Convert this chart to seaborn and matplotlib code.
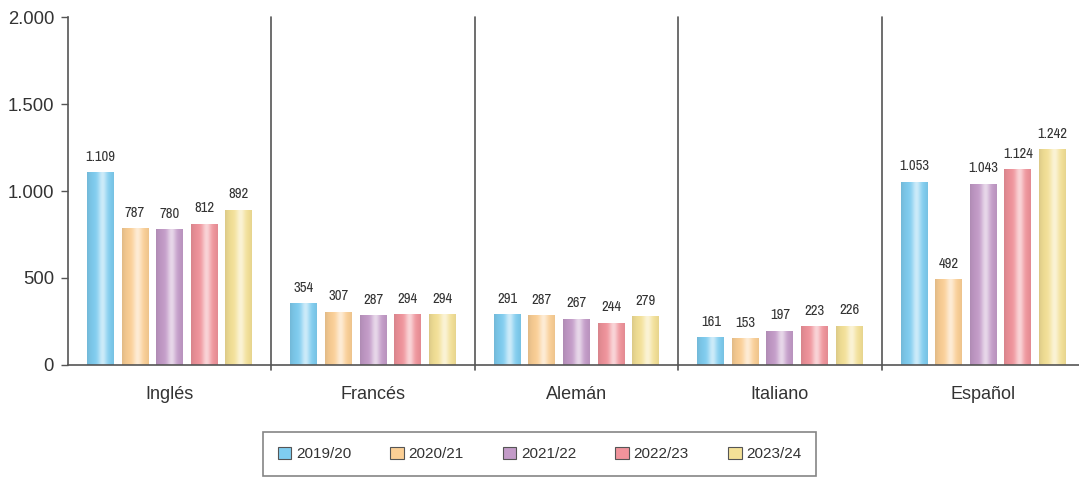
import numpy as np
import pandas as pd
import matplotlib
matplotlib.use("Agg")
import matplotlib.pyplot as plt
from matplotlib.patches import Patch
from matplotlib.ticker import FuncFormatter
from matplotlib.colors import to_rgb
from matplotlib import font_manager
import seaborn as sns

# Alumnado por idioma y curso académico
idiomas = ["Inglés", "Francés", "Alemán", "Italiano", "Español"]
cursos = ["2019/20", "2020/21", "2021/22", "2022/23", "2023/24"]
v_2019_20 = [1109, 354, 291, 161, 1053]
v_2020_21 = [787, 307, 287, 153, 492]
v_2021_22 = [780, 287, 267, 197, 1043]
v_2022_23 = [812, 294, 244, 223, 1124]
v_2023_24 = [892, 294, 279, 226, 1242]
colores = ["#7fcdf0", "#fbcf95", "#c39bc8", "#f0939b", "#f4e197"]

series = [v_2019_20, v_2020_21, v_2021_22, v_2022_23, v_2023_24]
df = pd.DataFrame(
    [(idioma, curso, vals[i]) for curso, vals in zip(cursos, series)
     for i, idioma in enumerate(idiomas)],
    columns=["idioma", "curso", "alumnos"],
)

sns.set_theme(style="white")
plt.rcParams["font.family"] = ["Liberation Sans", "DejaVu Sans"]

# Fuente estrecha para las etiquetas de valor
narrow = None
for f in font_manager.fontManager.ttflist:
    if "Narrow" in f.name or (f.name == "DejaVu Sans" and f.stretch == "condensed"
                              and f.style == "normal" and f.weight in (400, "normal")):
        narrow = f.fname
        if "Narrow" in f.name and f.weight in (400, "normal") and f.style == "normal":
            break
label_font = (font_manager.FontProperties(fname=narrow, size=10.5) if narrow
              else font_manager.FontProperties(family="Liberation Sans", size=9.5))

fig = plt.figure(figsize=(10.79, 4.79), dpi=100)
ax = fig.add_axes([0.063, 0.238, 0.937, 0.7265])

sns.barplot(
    data=df, x="idioma", y="alumnos", hue="curso",
    order=idiomas, hue_order=cursos, palette=colores,
    width=0.85, gap=0.22, legend=False, ax=ax, linewidth=0,
)

ax.set_xlabel("")
ax.set_ylabel("")


def miles(v, pos=None):
    return f"{int(round(v)):,}".replace(",", ".")


ax.yaxis.set_major_formatter(FuncFormatter(miles))
ax.set_yticks([0, 500, 1000, 1500, 2000])
ax.tick_params(axis="y", length=5, width=1, color="#555555", labelsize=13.3,
               left=True, pad=5, labelcolor="#333333")
ax.tick_params(axis="x", length=0, labelsize=13, pad=15, labelcolor="#333333")

for side in ["top", "right"]:
    ax.spines[side].set_visible(False)
for side in ["left", "bottom"]:
    ax.spines[side].set_color("#555555")
    ax.spines[side].set_linewidth(1.2)

# Separadores entre idiomas
for xs in [0.5, 1.5, 2.5, 3.5]:
    ax.axvline(xs, ymin=-0.015, ymax=1.0, color="#555555", lw=1.2,
               clip_on=False, zorder=1)


def cylinder(base, n=64):
    base = np.array(to_rgb(base))
    t = np.linspace(0, 1, n)
    hi = 0.6 * np.exp(-((t - 0.58) / 0.17) ** 2)
    edge = 0.10 * (np.abs(t - 0.55) / 0.55) ** 3
    rgb = base[None, :] * (1 - hi[:, None]) + hi[:, None]
    rgb = rgb * (1 - edge[:, None])
    return np.clip(rgb, 0, 1)[None, :, :]


# Sombreado cilíndrico de las barras y etiquetas de valor
for cont, color, vals in zip(ax.containers, colores, series):
    grad = cylinder(color)
    for bar in cont:
        x0, w, h = bar.get_x(), bar.get_width(), bar.get_height()
        im = ax.imshow(grad, extent=(x0, x0 + w, 0, h), aspect="auto",
                       zorder=bar.get_zorder() + 0.1, interpolation="bilinear")
        im.set_clip_path(bar)
    texts = ax.bar_label(cont, labels=[miles(v) for v in vals], padding=6,
                         color="#333333")
    for t in texts:
        t.set_fontproperties(label_font)

ax.set_xlim(-0.5, 4.47)
ax.set_ylim(0, 2000)

handles = [Patch(facecolor=c, edgecolor="#555555", linewidth=0.8) for c in colores]
leg = fig.legend(handles, cursos, loc="center", bbox_to_anchor=(0.5, 0.052),
                 ncol=5, frameon=True, fancybox=False, fontsize=11,
                 handlelength=0.9, handleheight=0.9, handletextpad=0.3,
                 columnspacing=2.55, borderpad=0.95, edgecolor="#666666")
leg.get_frame().set_linewidth(1.2)
for t in leg.get_texts():
    t.set_color("#333333")

fig.savefig("out.png", dpi=100)
